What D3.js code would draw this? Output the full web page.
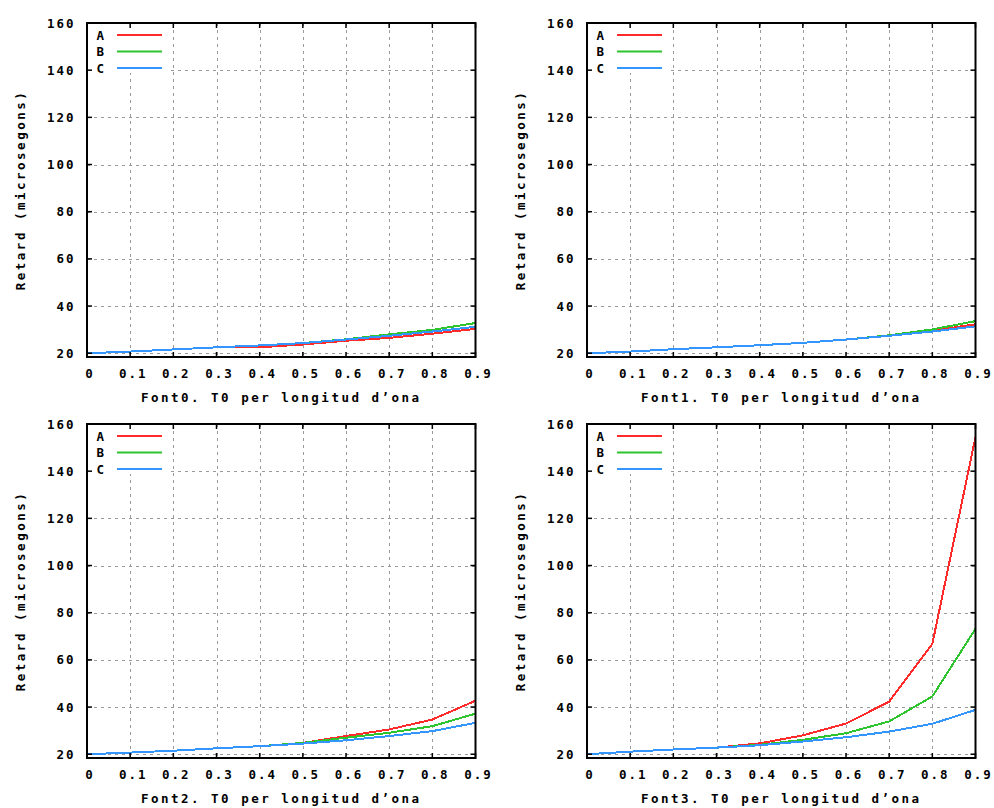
<!DOCTYPE html>
<html>
<head>
<meta charset="utf-8">
<script src="https://cdn.jsdelivr.net/npm/d3@7"></script>
<style>
  html, body { margin: 0; padding: 0; background: #fff; }
  svg { display: block; }
  text { font-family: "DejaVu Sans Mono", monospace; font-weight: bold; font-size: 12.5px; letter-spacing: 2.5px; fill: #000; }
  text.tick { letter-spacing: 2px; }
</style>
</head>
<body>
<svg id="chart" width="994" height="808"></svg>
<script>
// Wavelength fraction sampled on every panel
const xValues = [0, 0.1, 0.2, 0.3, 0.4, 0.5, 0.6, 0.7, 0.8, 0.9];

// Delay (microseconds) per source and series
const font0A = [20.0, 20.7, 21.6, 22.5, 22.5, 23.7, 25.3, 26.5, 28.3, 30.3];
const font0B = [20.0, 20.7, 21.6, 22.5, 23.3, 24.3, 25.9, 28.0, 29.9, 32.8];
const font0C = [20.0, 20.7, 21.6, 22.5, 23.3, 24.3, 25.8, 27.4, 29.2, 31.2];

const font1A = [20.0, 20.7, 21.7, 22.5, 23.4, 24.4, 25.8, 27.4, 29.5, 32.3];
const font1B = [20.0, 20.7, 21.7, 22.5, 23.4, 24.4, 25.8, 27.6, 30.1, 33.6];
const font1C = [20.0, 20.7, 21.7, 22.5, 23.4, 24.4, 25.8, 27.4, 29.2, 31.4];

const font2A = [20.0, 20.7, 21.5, 22.5, 23.4, 24.8, 27.7, 30.5, 34.7, 42.7];
const font2B = [20.0, 20.7, 21.5, 22.5, 23.4, 24.8, 27.0, 29.1, 31.9, 37.2];
const font2C = [20.0, 20.7, 21.5, 22.5, 23.4, 24.5, 25.9, 27.7, 29.8, 33.3];

const font3A = [20.0, 21.1, 22.0, 22.8, 24.6, 28.0, 33.0, 42.3, 66.8, 154.5];
const font3B = [20.0, 21.1, 22.0, 22.8, 24.0, 26.1, 28.9, 33.9, 44.5, 73.2];
const font3C = [20.0, 21.1, 22.0, 22.8, 23.8, 25.4, 27.2, 29.6, 32.9, 38.8];

const seriesNames = ["A", "B", "C"];
const seriesColors = ["#ff2b2b", "#2ec42e", "#3396ff"];

const panelTitles = [
  "Font0. T0 per longitud d’ona",
  "Font1. T0 per longitud d’ona",
  "Font2. T0 per longitud d’ona",
  "Font3. T0 per longitud d’ona"
];
const panelData = [
  [font0A, font0B, font0C],
  [font1A, font1B, font1C],
  [font2A, font2B, font2C],
  [font3A, font3B, font3C]
];

const xTickValues = [0, 0.1, 0.2, 0.3, 0.4, 0.5, 0.6, 0.7, 0.8, 0.9];
const xTickLabels = ["0", "0.1", "0.2", "0.3", "0.4", "0.5", "0.6", "0.7", "0.8", "0.9"];
const yTickValues = [20, 40, 60, 80, 100, 120, 140, 160];
const yAxisTitle = "Retard (microsegons)";

const xDomain = [0, 0.9];
const yDomain = [18.4, 160];

// Panel geometry
const plotW = 388.5, plotH = 334;
const lefts = [87, 587], tops = [23, 424];
const tickLen = 5;
const keyBoxW = 84, keyBoxH = 50;

const svg = d3.select("#chart");
svg.append("rect").attr("width", 994).attr("height", 808).attr("fill", "#fff");

panelData.forEach((series, i) => {
  const left = lefts[i % 2], top = tops[Math.floor(i / 2)];
  const x = d3.scaleLinear().domain(xDomain).range([left, left + plotW]);
  const y = d3.scaleLinear().domain(yDomain).range([top + plotH, top]);
  const g = svg.append("g");
  const clipId = "clip" + i;

  g.append("clipPath").attr("id", clipId)
    .append("rect").attr("x", left).attr("y", top).attr("width", plotW).attr("height", plotH);

  // dashed grid
  const grid = g.append("g").attr("stroke", "#9a9a9a").attr("stroke-width", 1)
    .attr("stroke-dasharray", "3,4").attr("shape-rendering", "crispEdges");
  grid.selectAll("line.v").data(xTickValues.slice(1, -1)).join("line")
    .attr("x1", d => Math.round(x(d)) + 0.5).attr("x2", d => Math.round(x(d)) + 0.5)
    .attr("y1", top).attr("y2", top + plotH);
  grid.selectAll("line.h").data(yTickValues.slice(0, -1)).join("line")
    .attr("y1", d => Math.round(y(d)) + 0.5).attr("y2", d => Math.round(y(d)) + 0.5)
    .attr("x1", left).attr("x2", left + plotW);

  // key area stays clear of the grid
  g.append("rect").attr("x", left).attr("y", top).attr("width", keyBoxW).attr("height", keyBoxH)
    .attr("fill", "#fff");

  // series lines
  const line = d3.line().x((d, k) => x(xValues[k])).y(d => y(d));
  const lines = g.append("g").attr("clip-path", `url(#${clipId})`);
  series.forEach((vals, s) => {
    lines.append("path").datum(vals)
      .attr("d", line)
      .attr("fill", "none")
      .attr("stroke", seriesColors[s])
      .attr("stroke-width", 2)
      .attr("shape-rendering", "crispEdges");
  });

  // frame
  g.append("rect").attr("x", left).attr("y", top).attr("width", plotW).attr("height", plotH)
    .attr("fill", "none").attr("stroke", "#000").attr("stroke-width", 2);

  // mirrored inward ticks
  const ticks = g.append("g").attr("stroke", "#000").attr("stroke-width", 1.5);
  xTickValues.forEach(v => {
    ticks.append("line").attr("x1", x(v)).attr("x2", x(v)).attr("y1", top + plotH).attr("y2", top + plotH - tickLen);
    ticks.append("line").attr("x1", x(v)).attr("x2", x(v)).attr("y1", top).attr("y2", top + tickLen);
  });
  yTickValues.forEach(v => {
    ticks.append("line").attr("y1", y(v)).attr("y2", y(v)).attr("x1", left).attr("x2", left + tickLen);
    ticks.append("line").attr("y1", y(v)).attr("y2", y(v)).attr("x1", left + plotW).attr("x2", left + plotW - tickLen);
  });

  // tick labels
  g.selectAll("text.xt").data(xTickValues).join("text")
    .attr("class", "tick")
    .attr("x", d => x(d) + 3).attr("y", top + plotH + 21.3)
    .attr("text-anchor", "middle").text((d, k) => xTickLabels[k]);
  g.selectAll("text.yt").data(yTickValues).join("text")
    .attr("class", "tick")
    .attr("x", left - 11.5).attr("y", d => y(d) + 4.5)
    .attr("text-anchor", "end").text(d => d);

  // axis titles
  g.append("text").attr("x", left + plotW / 2).attr("y", top + plotH + 45)
    .attr("text-anchor", "middle").text(panelTitles[i]);
  g.append("text")
    .attr("transform", `translate(${left - 62.5},${top + plotH / 2}) rotate(-90)`)
    .attr("text-anchor", "middle").text(yAxisTitle);

  // key
  seriesNames.forEach((name, s) => {
    const ky = top + 12 + s * 16.5;
    g.append("text").attr("x", left + 9.5).attr("y", ky + 4.5).text(name);
    g.append("line").attr("x1", left + 30).attr("x2", left + 75)
      .attr("y1", ky).attr("y2", ky)
      .attr("stroke", seriesColors[s]).attr("stroke-width", 2);
  });
});
</script>
</body>
</html>
